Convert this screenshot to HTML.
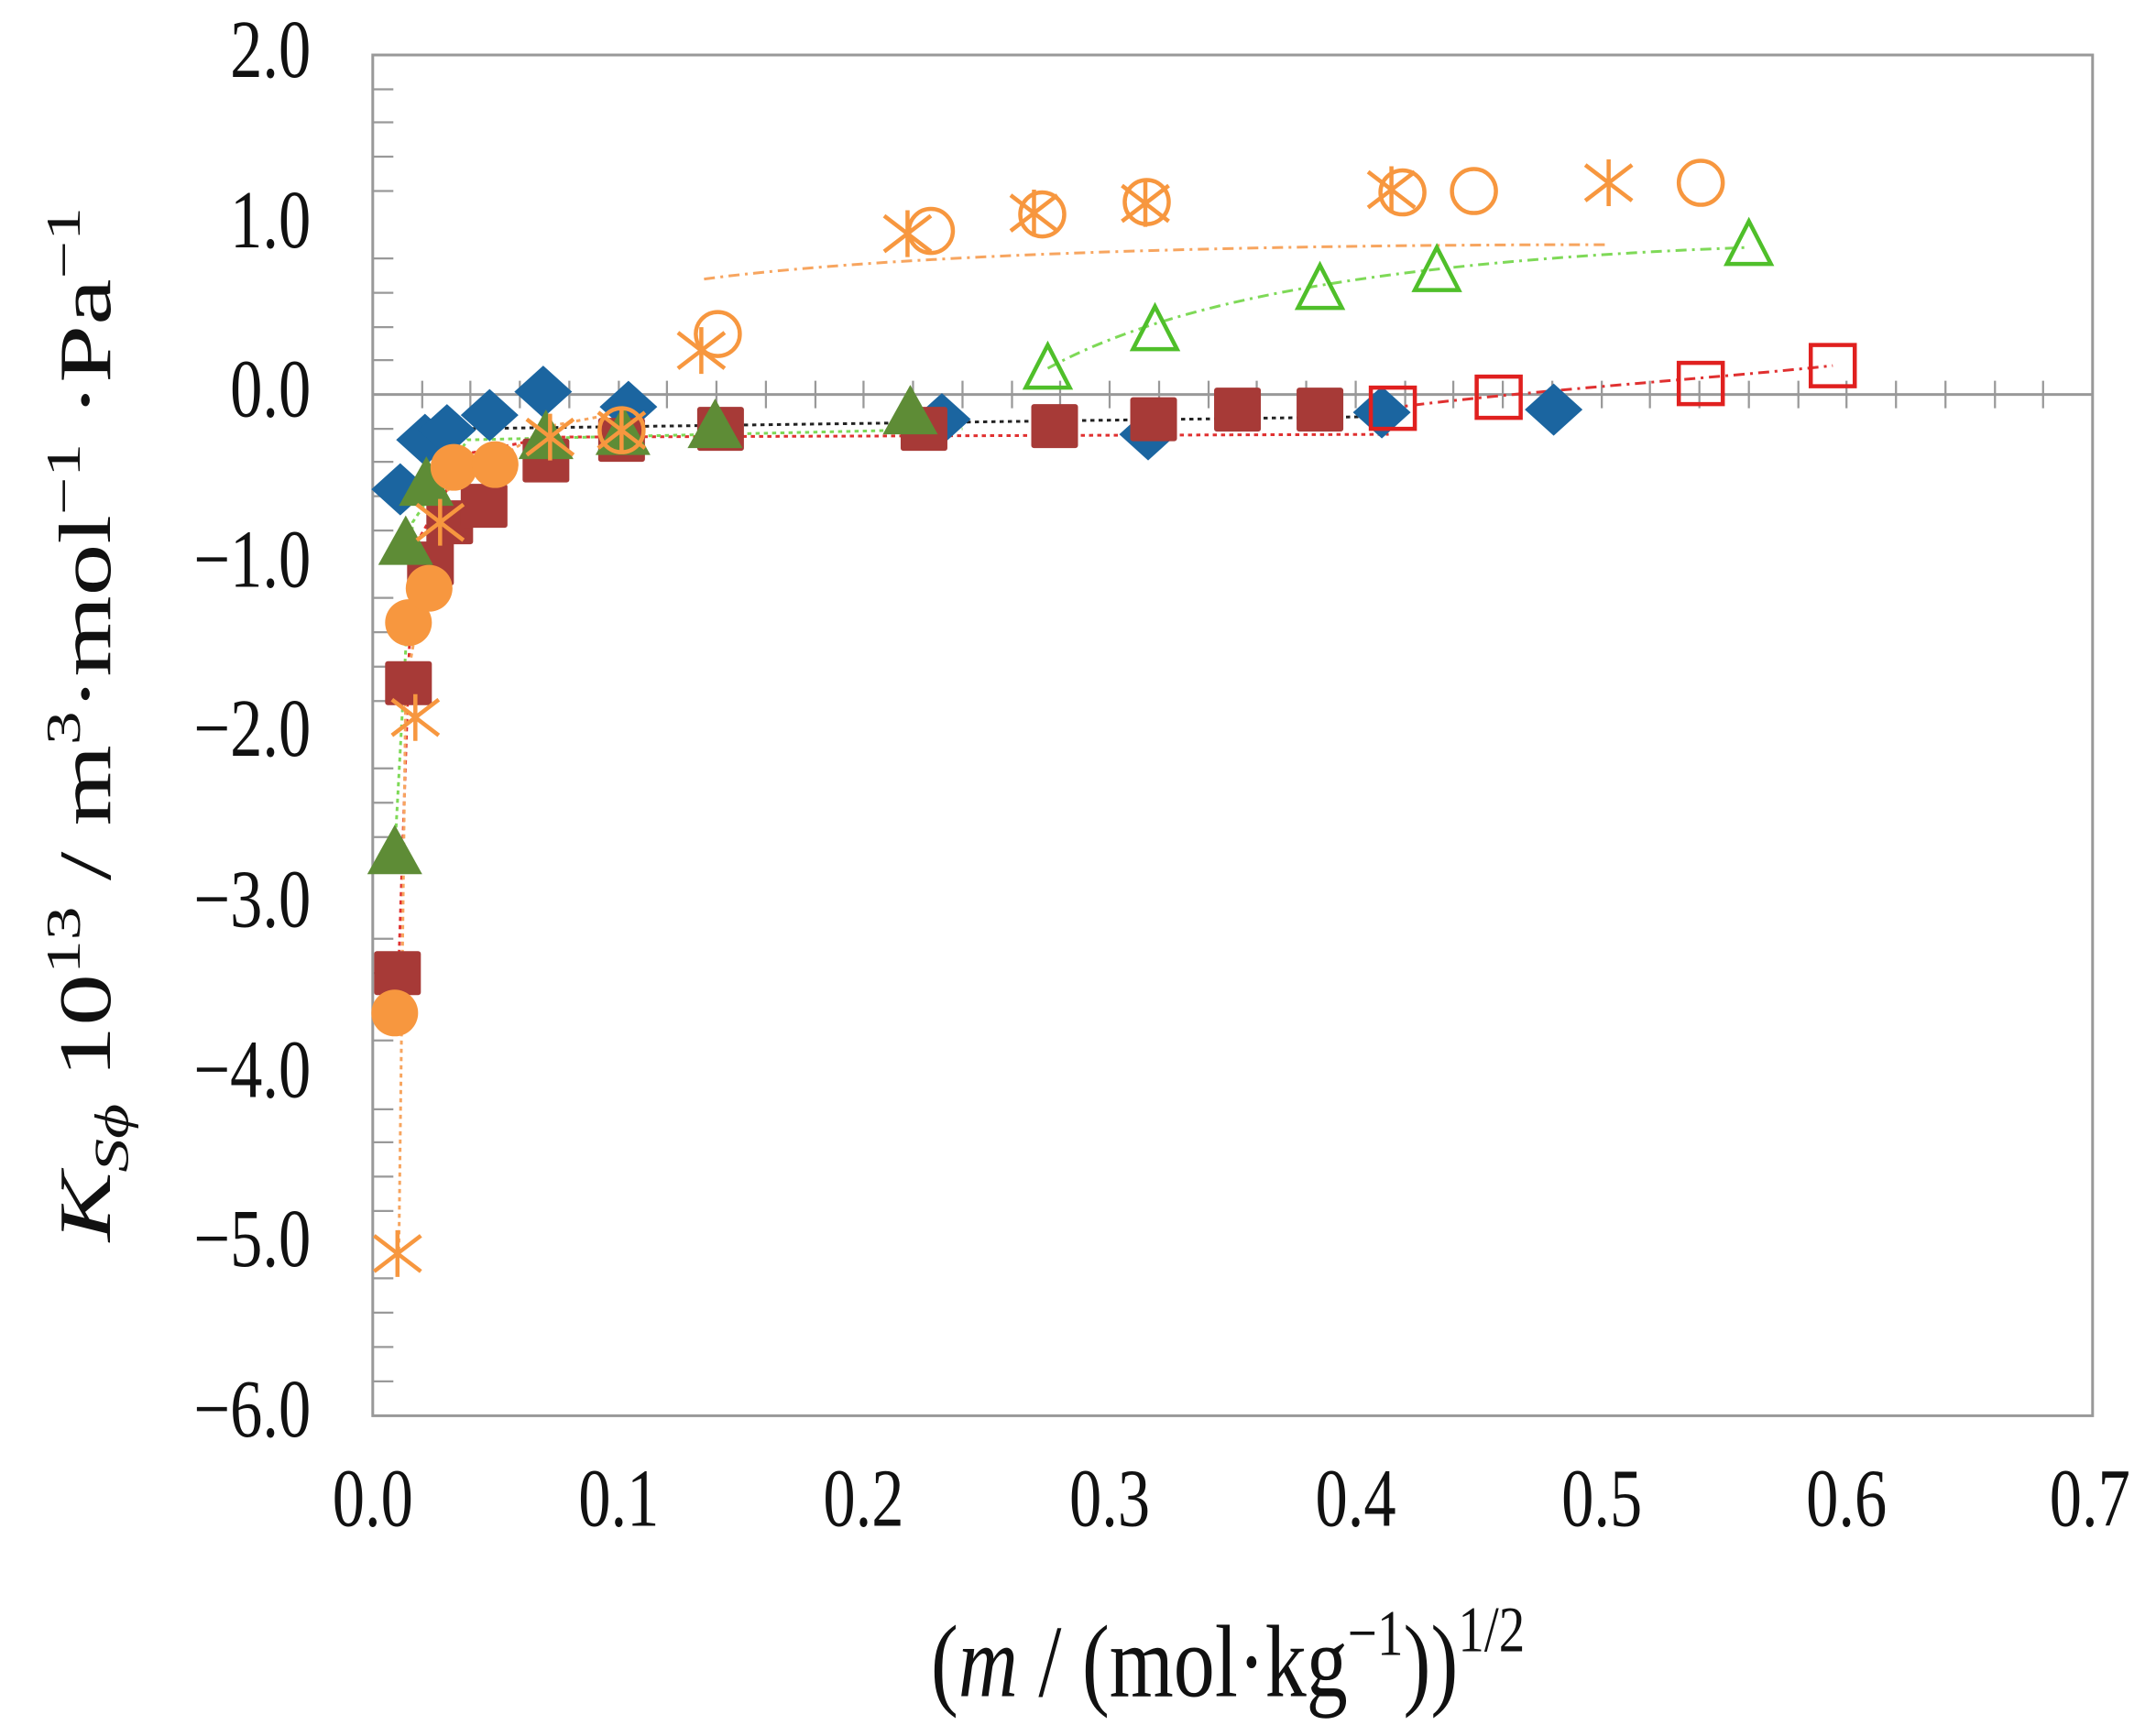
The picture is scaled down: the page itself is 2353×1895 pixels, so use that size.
<!DOCTYPE html>
<html><head><style>html,body{margin:0;padding:0;background:#fff}svg{display:block}</style></head>
<body>
<svg width="2353" height="1895" viewBox="0 0 1568 1263" xmlns="http://www.w3.org/2000/svg" font-family="Liberation Serif, serif">
<defs>
<polygon id="dia" points="0,-19 21,0 0,19 -21,0" fill="#1b65a0"/>
<rect id="sq" x="-17" y="-16" width="34" height="32" fill="#a73a37" rx="2"/>
<polygon id="tri" points="0,-20 20,16 -20,16" fill="#5e8c36"/>
<circle id="fc" r="17" fill="#f7973f"/>
<g id="ast" stroke="#f7973f" stroke-width="3" fill="none"><line x1="-17" y1="-13" x2="17" y2="13"/><line x1="-17" y1="13" x2="17" y2="-13"/><line x1="0" y1="-17" x2="0" y2="17"/></g>
<circle id="oc" r="16" fill="none" stroke="#f7973f" stroke-width="3"/>
<polygon id="ot" points="0,-17 16,14 -16,14" fill="none" stroke="#4fbf2a" stroke-width="3"/>
<rect id="os" x="-16" y="-15" width="32" height="30" fill="none" stroke="#e0201f" stroke-width="3"/>
</defs>
<rect x="271" y="40" width="1251" height="990" fill="none" stroke="#999" stroke-width="2"/>
<line x1="271" y1="287" x2="1522" y2="287" stroke="#999" stroke-width="2"/>
<g stroke="#999" stroke-width="1.5">
<path d="M271 65h15M271 89h15M271 114h15M271 139h15M271 188h15M271 213h15M271 238h15M271 262h15M271 312h15M271 336h15M271 361h15M271 386h15M271 435h15M271 460h15M271 485h15M271 510h15M271 559h15M271 584h15M271 609h15M271 633h15M271 683h15M271 708h15M271 732h15M271 757h15M271 807h15M271 831h15M271 856h15M271 881h15M271 930h15M271 955h15M271 980h15M271 1005h15"/>
<path d="M307 277v20M342 277v20M378 277v20M414 277v20M450 277v20M485 277v20M521 277v20M557 277v20M593 277v20M628 277v20M664 277v20M700 277v20M736 277v20M771 277v20M807 277v20M843 277v20M879 277v20M914 277v20M950 277v20M986 277v20M1022 277v20M1057 277v20M1093 277v20M1129 277v20M1165 277v20M1200 277v20M1236 277v20M1272 277v20M1308 277v20M1343 277v20M1379 277v20M1415 277v20M1451 277v20M1486 277v20"/>
</g>
<g font-size="47" text-anchor="end" fill="#111">
<text transform="translate(226,56) scale(1,1.28)">2.0</text><text transform="translate(226,180) scale(1,1.28)">1.0</text><text transform="translate(226,303) scale(1,1.28)">0.0</text>
<text transform="translate(226,427) scale(1,1.28)">−1.0</text><text transform="translate(226,550) scale(1,1.28)">−2.0</text><text transform="translate(226,674) scale(1,1.28)">−3.0</text>
<text transform="translate(226,798) scale(1,1.28)">−4.0</text><text transform="translate(226,921) scale(1,1.28)">−5.0</text><text transform="translate(226,1045) scale(1,1.28)">−6.0</text>
</g>
<g font-size="47" text-anchor="middle" fill="#111">
<text transform="translate(271,1110) scale(1,1.28)">0.0</text><text transform="translate(450,1110) scale(1,1.28)">0.1</text><text transform="translate(628,1110) scale(1,1.28)">0.2</text><text transform="translate(807,1110) scale(1,1.28)">0.3</text>
<text transform="translate(986,1110) scale(1,1.28)">0.4</text><text transform="translate(1165,1110) scale(1,1.28)">0.5</text><text transform="translate(1343,1110) scale(1,1.28)">0.6</text><text transform="translate(1520,1110) scale(1,1.28)">0.7</text>
</g>
<text transform="translate(893,1234) scale(1,1.25)" font-size="60" text-anchor="middle" fill="#111">(<tspan font-style="italic">m</tspan> / (mol·kg<tspan dy="-24" font-size="38">−1</tspan><tspan dy="24">))</tspan><tspan dy="-26" font-size="38">1/2</tspan></text>
<text transform="translate(80,527) rotate(-90) scale(1.4,1)" font-size="54" text-anchor="middle" fill="#111"><tspan font-style="italic">K</tspan><tspan font-size="35" dy="13" font-style="italic">Sϕ</tspan><tspan dy="-13"> 10</tspan><tspan font-size="35" dy="-22">13</tspan><tspan dy="22"> / m</tspan><tspan font-size="35" dy="-22">3</tspan><tspan dy="22">·mol</tspan><tspan font-size="35" dy="-22">−1</tspan><tspan dy="22"> ·Pa</tspan><tspan font-size="35" dy="-22">−1</tspan></text>
<g fill="none" stroke-width="2">
<path d="M300 330 L330 312 L1010 303" stroke="#222" stroke-dasharray="3,3"/>
<path d="M290 700 L300 400 L340 330 L400 318 L1010 316" stroke="#e03030" stroke-dasharray="3,3"/>
<path d="M287 620 L300 380 L340 320 L700 312" stroke="#7ed957" stroke-dasharray="3,3"/>
<path d="M290 910 L295 500 L320 360 L400 310 L452 300" stroke="#f7a55f" stroke-dasharray="3,3"/>
<path d="M1010 297 C1100 285 1250 275 1333 266" stroke="#e03030" stroke-dasharray="8,4,2,4"/>
<path d="M512 203 C650 185 900 178 1170 178" stroke="#f7a55f" stroke-dasharray="8,4,2,4"/>
<path d="M762 268 C850 220 1000 190 1272 180" stroke="#7ed957" stroke-dasharray="8,4,2,4"/>
</g>
<use href="#dia" x="291" y="356"/><use href="#dia" x="309" y="320"/><use href="#dia" x="325" y="313"/><use href="#dia" x="356" y="302"/><use href="#dia" x="395" y="285"/><use href="#dia" x="457" y="296"/><use href="#dia" x="685" y="305"/><use href="#dia" x="835" y="316"/><use href="#dia" x="1005" y="300"/><use href="#dia" x="1130" y="298"/>
<use href="#sq" x="289" y="708"/><use href="#sq" x="297" y="497"/><use href="#sq" x="313" y="410"/><use href="#sq" x="327" y="380"/><use href="#sq" x="352" y="368"/><use href="#sq" x="397" y="335"/><use href="#sq" x="452" y="320"/><use href="#sq" x="524" y="312"/><use href="#sq" x="672" y="312"/><use href="#sq" x="767" y="310"/><use href="#sq" x="839" y="305"/><use href="#sq" x="900" y="298"/><use href="#sq" x="960" y="298"/>
<use href="#tri" x="287" y="620"/><use href="#tri" x="295" y="395"/><use href="#tri" x="310" y="352"/><use href="#tri" x="397" y="318"/><use href="#tri" x="453" y="315"/><use href="#tri" x="520" y="310"/><use href="#tri" x="662" y="300"/>
<use href="#fc" x="287" y="737"/><use href="#fc" x="297" y="453"/><use href="#fc" x="312" y="428"/><use href="#fc" x="330" y="340"/><use href="#fc" x="360" y="338"/>
<use href="#ast" x="289" y="912"/><use href="#ast" x="302" y="522"/><use href="#ast" x="320" y="380"/><use href="#ast" x="400" y="318"/><use href="#ast" x="452" y="313"/><use href="#ast" x="510" y="255"/><use href="#ast" x="660" y="170"/><use href="#ast" x="752" y="155"/><use href="#ast" x="833" y="148"/><use href="#ast" x="1012" y="138"/><use href="#ast" x="1170" y="133"/>
<use href="#oc" x="452" y="313"/><use href="#oc" x="522" y="243"/><use href="#oc" x="677" y="168"/><use href="#oc" x="758" y="156"/><use href="#oc" x="834" y="147"/><use href="#oc" x="1020" y="140"/><use href="#oc" x="1072" y="139"/><use href="#oc" x="1237" y="133"/>
<use href="#ot" x="762" y="268"/><use href="#ot" x="840" y="240"/><use href="#ot" x="960" y="210"/><use href="#ot" x="1045" y="197"/><use href="#ot" x="1272" y="178"/>
<use href="#os" x="1013" y="297"/><use href="#os" x="1090" y="289"/><use href="#os" x="1237" y="279"/><use href="#os" x="1333" y="266"/>
</svg>
</body></html>
